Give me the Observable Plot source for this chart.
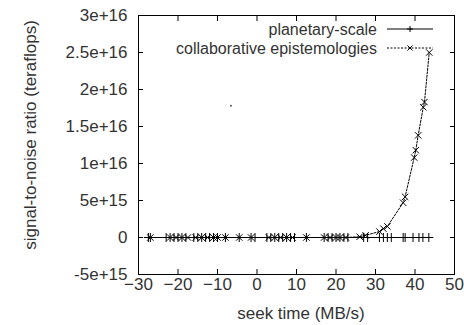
<!DOCTYPE html>
<html>
<head>
<meta charset="utf-8">
<script src="https://cdn.jsdelivr.net/npm/d3@7"></script>
<script src="https://cdn.jsdelivr.net/npm/@observablehq/plot@0.6"></script>
<style>
  html, body { margin: 0; padding: 0; background: #fff; }
  #chart svg { display: block; }
</style>
</head>
<body>
<div id="chart"></div>
<script>
// Series: planetary-scale (flat at zero)
const planetaryX = [-27.5, -27, -23, -22, -21, -20, -19, -18, -16, -15, -14, -13, -12, -11, -10, -8, -4.5,
  -1.5, -0.5, 2.5, 3.5, 4.5, 5.5, 6.5, 7.5, 8.5, 9.5, 12.5, 17, 18, 19, 20, 21, 22, 23, 27, 28,
  31, 32, 33, 34, 37, 37.5, 39.5, 41, 42, 43.5];
const planetaryY = planetaryX.map(() => 0);

// Series: collaborative epistemologies
const collabX = [-27, -22, -20.5, -19, -17.5, -15.5, -14, -12.5, -11, -10, -8, -4.5, -1.5, 3, 4.5, 6, 7.5, 9,
  12.5, 17, 18.5, 20, 21, 22.5, 26, 27.5, 31, 32, 33, 37, 37.5, 39.8, 40.2, 40.8, 42.1, 42.4, 43.6];
const collabY = [0, 0, 0, 0, 0, 0, 0, 0, 0, 0, 0, 0, 0, 0, 0, 0, 0, 0,
  0, 0, 0, 0, 0, 0, 0.1e15, 0.3e15, 0.8e15, 1.2e15, 1.5e15, 4.7e15, 5.5e15, 10.8e15, 11.8e15, 13.8e15, 17.6e15, 18.3e15, 25e15];

// Stray point
const strayX = [-6.6];
const strayY = [1.78e16];

const xTicks = [-30, -20, -10, 0, 10, 20, 30, 40, 50];
const yTicks = [-5e15, 0, 5e15, 1e16, 1.5e16, 2e16, 2.5e16, 3e16];
const yTickLabels = ["-5e+15", "0", "5e+15", "1e+16", "1.5e+16", "2e+16", "2.5e+16", "3e+16"];
const seriesNames = ["planetary-scale", "collaborative epistemologies"];

const planetary = planetaryX.map((x, i) => ({x, y: planetaryY[i]}));
const collab = collabX.map((x, i) => ({x, y: collabY[i]}));
const stray = strayX.map((x, i) => ({x, y: strayY[i]}));

const font = "Liberation Sans, Arial, Helvetica, sans-serif";
const fs = 17;
const legendFs = 16;

const chart = Plot.plot({
  width: 464,
  height: 325,
  marginLeft: 138,
  marginRight: 10,
  marginTop: 15,
  marginBottom: 51,
  style: {fontFamily: font, fontSize: fs + "px", color: "#222", background: "#fff"},
  x: {domain: [-30, 50]},
  y: {domain: [-5e15, 3e16]},
  marks: [
    Plot.frame({stroke: "#000", strokeWidth: 1}),
    // inward ticks
    Plot.axisX(xTicks, {anchor: "bottom", tickSize: -5, text: null, label: null, stroke: "#000"}),
    Plot.axisX(xTicks, {anchor: "top", tickSize: -5, text: null, label: null, stroke: "#000"}),
    Plot.axisY(yTicks, {anchor: "left", tickSize: -5, text: null, label: null, stroke: "#000"}),
    Plot.axisY(yTicks, {anchor: "right", tickSize: -5, text: null, label: null, stroke: "#000"}),
    // labels
    Plot.axisX(xTicks, {anchor: "bottom", tickSize: 0, tickPadding: 3, label: null, fill: "#333", fontSize: fs}),
    Plot.axisY(yTicks, {anchor: "left", tickSize: 0, tickPadding: 11, label: null, fill: "#333", fontSize: fs,
      tickFormat: (d) => yTickLabels[yTicks.indexOf(d)]}),
    // data
    Plot.line(planetary, {x: "x", y: "y", stroke: "#000", strokeWidth: 1}),
    Plot.dot(planetary, {x: "x", y: "y", symbol: "plus", r: 3, stroke: "#000", strokeWidth: 1}),
    Plot.line(collab, {x: "x", y: "y", stroke: "#000", strokeWidth: 1, strokeDasharray: "2,1.5"}),
    Plot.dot(collab, {x: "x", y: "y", symbol: "times", r: 3, stroke: "#000", strokeWidth: 1}),
    Plot.dot(stray, {x: "x", y: "y", r: 1, fill: "#555", stroke: null})
  ]
});

const svg = d3.select(chart);
// axis titles
svg.append("text")
  .attr("x", 301).attr("y", 313)
  .attr("text-anchor", "middle").attr("dominant-baseline", "central")
  .attr("font-family", font).attr("font-size", fs).attr("fill", "#333")
  .text("seek time (MB/s)");
svg.append("text")
  .attr("transform", "translate(30,135) rotate(-90)")
  .attr("text-anchor", "middle").attr("dominant-baseline", "central")
  .attr("font-family", font).attr("font-size", fs).attr("fill", "#333")
  .text("signal-to-noise ratio (teraflops)");

// legend
const legend = svg.append("g");
seriesNames.forEach((name, i) => {
  const y = 29 + i * 19;
  legend.append("text")
    .attr("x", 377).attr("y", y)
    .attr("text-anchor", "end").attr("dominant-baseline", "central")
    .attr("font-family", font).attr("font-size", legendFs).attr("fill", "#333")
    .text(name);
  legend.append("line")
    .attr("x1", 387).attr("x2", 433).attr("y1", y).attr("y2", y)
    .attr("stroke", "#000").attr("stroke-width", 1)
    .attr("stroke-dasharray", i === 0 ? null : "2,1.5");
  const m = legend.append("g").attr("transform", `translate(410,${y})`).attr("stroke", "#000");
  if (i === 0) {
    m.append("line").attr("x1", -3).attr("x2", 3).attr("y1", 0).attr("y2", 0);
    m.append("line").attr("x1", 0).attr("x2", 0).attr("y1", -3).attr("y2", 3);
  } else {
    m.append("line").attr("x1", -2.5).attr("x2", 2.5).attr("y1", -2.5).attr("y2", 2.5);
    m.append("line").attr("x1", -2.5).attr("x2", 2.5).attr("y1", 2.5).attr("y2", -2.5);
  }
});

document.getElementById("chart").appendChild(chart);
</script>
</body>
</html>
